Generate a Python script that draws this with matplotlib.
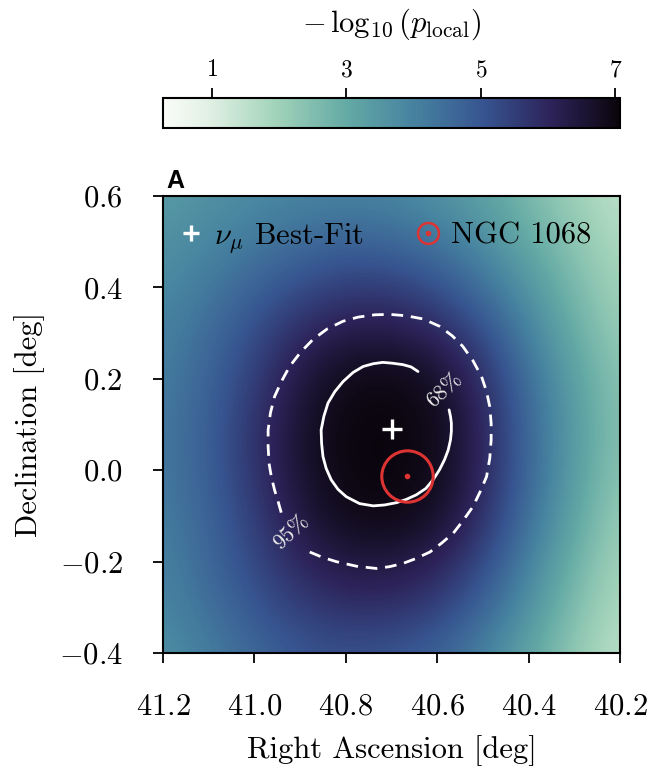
import numpy as np
import matplotlib.pyplot as plt
from matplotlib.colors import LinearSegmentedColormap
from matplotlib.lines import Line2D
from matplotlib.legend_handler import HandlerTuple
from matplotlib.ticker import FuncFormatter

plt.rcParams['font.family'] = 'serif'
plt.rcParams['font.serif'] = ['cmr10', 'DejaVu Serif']
plt.rcParams['mathtext.fontset'] = 'cm'
plt.rcParams['axes.formatter.use_mathtext'] = True
plt.rcParams['font.size'] = 22

# grid of the -log10(p_local) map
ra_grid = [41.2, 41.1, 41.0, 40.9, 40.8, 40.7, 40.6, 40.5, 40.4, 40.3, 40.2]
dec_grid = [0.6, 0.5, 0.4, 0.3, 0.2, 0.1, 0.0, -0.1, -0.2, -0.3, -0.4]
neglogp = [
    [3.4, 3.6, 3.8, 3.9, 4.0, 3.9, 3.6, 3.2, 2.6, 2.0, 1.5],
    [3.6, 3.9, 4.2, 4.5, 4.7, 4.6, 4.3, 3.7, 3.0, 2.3, 1.7],
    [3.8, 4.2, 4.7, 5.2, 5.5, 5.5, 5.1, 4.4, 3.5, 2.6, 1.9],
    [4.0, 4.5, 5.2, 5.9, 6.3, 6.3, 6.0, 5.2, 4.0, 2.9, 2.1],
    [4.1, 4.7, 5.5, 6.4, 6.9, 7.0, 6.7, 5.8, 4.4, 3.2, 2.3],
    [4.2, 4.8, 5.7, 6.6, 7.05, 7.07, 6.9, 6.0, 4.6, 3.3, 2.4],
    [4.2, 4.8, 5.7, 6.6, 7.05, 7.07, 6.9, 6.0, 4.6, 3.3, 2.3],
    [4.1, 4.7, 5.5, 6.4, 6.9, 7.0, 6.7, 5.8, 4.4, 3.1, 2.1],
    [4.0, 4.6, 5.3, 6.0, 6.4, 6.4, 6.1, 5.3, 4.0, 2.8, 1.9],
    [3.9, 4.4, 5.0, 5.5, 5.8, 5.8, 5.5, 4.7, 3.6, 2.5, 1.7],
    [3.7, 4.1, 4.6, 5.0, 5.1, 5.0, 4.7, 4.0, 3.1, 2.2, 1.5],
]

best_fit_ra, best_fit_dec = 40.70, 0.09
ngc_ra, ngc_dec = 40.667, -0.013

# 68% contour (open where the label sits)
c68_ra = [40.642, 40.657, 40.675, 40.697, 40.719, 40.740, 40.762, 40.784, 40.806,
          40.824, 40.839, 40.848, 40.854, 40.853, 40.850, 40.843, 40.832, 40.817,
          40.799, 40.770, 40.740, 40.715, 40.689, 40.668, 40.646, 40.625, 40.609,
          40.595, 40.584, 40.576, 40.571, 40.569, 40.569, 40.571, 40.574]
c68_dec = [0.216, 0.226, 0.231, 0.234, 0.236, 0.233, 0.227, 0.214, 0.194,
           0.172, 0.147, 0.118, 0.088, 0.059, 0.030, 0.004, -0.021, -0.042,
           -0.058, -0.073, -0.078, -0.076, -0.071, -0.064, -0.054, -0.040, -0.021,
           0.001, 0.023, 0.044, 0.066, 0.085, 0.103, 0.118, 0.132]

# 95% contour (open where the label sits)
c95_ra = [40.879, 40.850, 40.821, 40.777, 40.733, 40.704, 40.675, 40.646, 40.616,
          40.591, 40.565, 40.544, 40.522, 40.506, 40.492, 40.485, 40.482, 40.482,
          40.485, 40.492, 40.503, 40.522, 40.544, 40.567, 40.595, 40.631, 40.668,
          40.704, 40.737, 40.773, 40.806, 40.841, 40.872, 40.899, 40.923, 40.941,
          40.956, 40.965, 40.970, 40.970, 40.968, 40.963, 40.956, 40.948, 40.941]
c95_dec = [-0.179, -0.191, -0.200, -0.210, -0.215, -0.211, -0.204, -0.193, -0.179,
           -0.160, -0.138, -0.111, -0.080, -0.047, -0.014, 0.026, 0.066, 0.103,
           0.139, 0.172, 0.205, 0.240, 0.271, 0.294, 0.315, 0.331, 0.338,
           0.341, 0.340, 0.335, 0.326, 0.309, 0.286, 0.258, 0.227, 0.194,
           0.161, 0.125, 0.088, 0.052, 0.015, -0.014, -0.043, -0.069, -0.094]

cmap_colors = ['#fafcf8', '#e1f0e4', '#a0d2b9', '#64aaa5', '#4682a0', '#375591',
               '#2d235a', '#0a050c']
cmap = LinearSegmentedColormap.from_list(
    'pmap', list(zip([0.0, 0.10, 0.25, 0.40, 0.55, 0.70, 0.85, 1.0], cmap_colors)))
red = '#dd3333'

fig = plt.figure(figsize=(6.51, 7.68), dpi=100)
ax = fig.add_axes([0.2504, 0.1497, 0.7020, 0.5951])
cax = fig.add_axes([0.2504, 0.8333, 0.7020, 0.0390])

dra = (ra_grid[0] - ra_grid[1]) / 2
ddec = (dec_grid[0] - dec_grid[1]) / 2
im = ax.imshow(np.array(neglogp), cmap=cmap, vmin=0.27, vmax=7.07,
               extent=[ra_grid[0] + dra, ra_grid[-1] - dra, dec_grid[-1] - ddec, dec_grid[0] + ddec],
               origin='upper', interpolation='bicubic', aspect='auto')

ax.plot(c68_ra, c68_dec, color='white', lw=2.0, solid_capstyle='round')
ax.plot(c95_ra, c95_dec, color='white', lw=2.0, ls=(0, (4.2, 2.8)))
ax.text(40.584, 0.176, '68%', color='#e8e8e8', fontsize=16, rotation=43,
        ha='center', va='center')
ax.text(40.919, -0.135, '95%', color='#e8e8e8', fontsize=16, rotation=43,
        ha='center', va='center')

ax.plot(best_fit_ra, best_fit_dec, marker='+', color='white', ms=14, mew=2.4, ls='none')
ax.plot(ngc_ra, ngc_dec, marker='o', mfc='none', mec=red, ms=37, mew=2.2, ls='none')
ax.plot(ngc_ra, ngc_dec, marker='o', color=red, ms=3, ls='none')

h_bf = Line2D([], [], marker='+', color='white', ms=12, mew=2.4, ls='none')
h_ngc = (Line2D([], [], marker='o', mfc='none', mec=red, ms=15, mew=1.8, ls='none'),
         Line2D([], [], marker='o', color=red, ms=3, ls='none'))
ax.legend([h_bf, h_ngc], [r'$\nu_\mu$ Best-Fit', 'NGC 1068'], ncol=2,
          loc='upper center', bbox_to_anchor=(0.485, 0.986), frameon=False,
          handlelength=0.8, handletextpad=0.35, columnspacing=1.7,
          borderaxespad=0.2, fontsize=22,
          handler_map={tuple: HandlerTuple(ndivide=1, pad=0)})

ax.set_xlim(41.2, 40.2)
ax.set_ylim(-0.4, 0.6)
ax.set_xticks([41.2, 41.0, 40.8, 40.6, 40.4, 40.2])
ax.set_yticks([-0.4, -0.2, 0.0, 0.2, 0.4, 0.6])
fmt = FuncFormatter(lambda v, pos: f'${v:.1f}$')
ax.xaxis.set_major_formatter(fmt)
ax.yaxis.set_major_formatter(fmt)
ax.tick_params(direction='out', length=7, width=1.3, pad=22, labelsize=22)
for s in ax.spines.values():
    s.set_linewidth(1.5)
ax.set_xlabel('Right Ascension [deg]', labelpad=10)
ax.set_ylabel('Declination [deg]', labelpad=10)

ax.text(0.008, 1.018, 'A', transform=ax.transAxes, fontsize=18, fontweight='bold',
        family=['Liberation Sans', 'DejaVu Sans'], ha='left', va='baseline')

cb = fig.colorbar(im, cax=cax, orientation='horizontal', ticks=[1, 3, 5, 7])
cax.xaxis.set_ticks_position('top')
cax.xaxis.set_label_position('top')
cax.xaxis.set_major_formatter(FuncFormatter(lambda v, pos: f'${v:.0f}$'))
cax.tick_params(direction='out', length=7, width=1.3, pad=5, labelsize=17)
cb.outline.set_linewidth(1.5)
cb.set_label(r'$-\,\log_{10}(p_\mathrm{local})$', fontsize=22, labelpad=20)

fig.savefig('out.png', dpi=100)
